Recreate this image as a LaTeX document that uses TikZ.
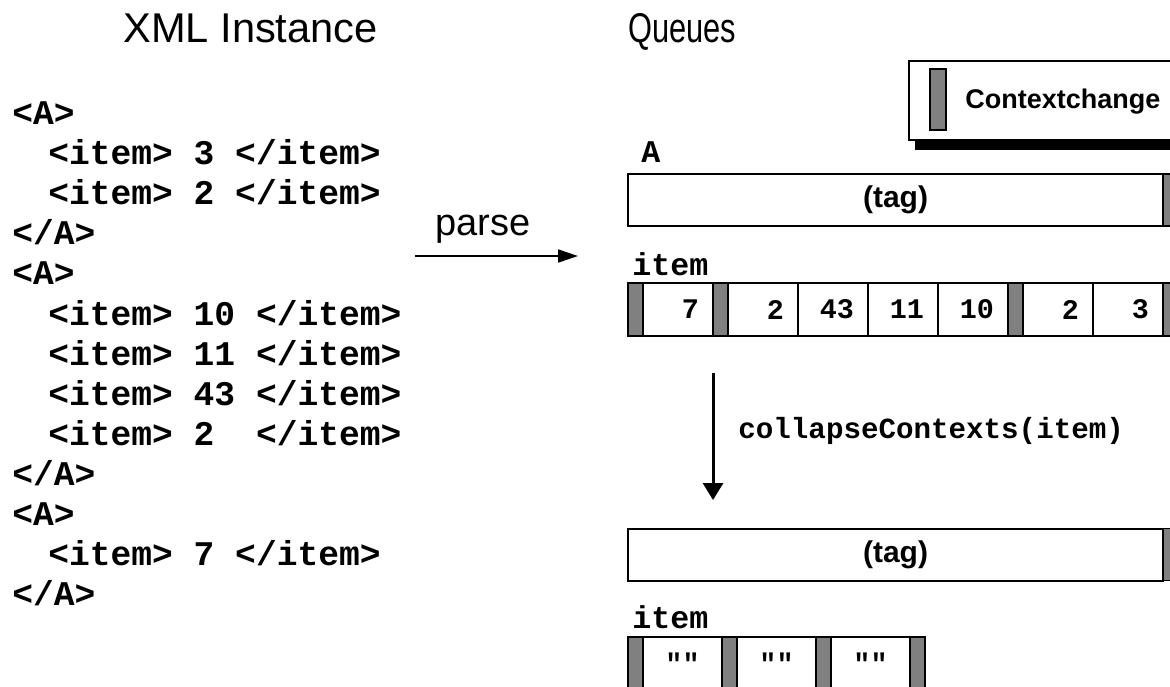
\documentclass[tikz,border=0pt]{standalone}
\usepackage{fontspec}
\newfontfamily\helv{Liberation Sans}
\newfontfamily\cour{Liberation Mono}
\usetikzlibrary{positioning,arrows.meta}

\begin{document}
\begin{tikzpicture}[x=0.5pt,y=-0.5pt,
	    title/.style={font=\helv\fontsize{20.8}{24}\selectfont, anchor=base west, inner sep=0},
	    xml/.style={font=\cour\bfseries\fontsize{17.3}{20}\selectfont, anchor=base west, inner sep=0},
	    code/.style={font=\cour\bfseries\fontsize{14.6}{18}\selectfont, anchor=base west, inner sep=0},
	    ctx/.style={draw, fill=black!50, line width=0.8pt, minimum width=7.5pt,
	        minimum height=26.5pt, inner sep=0, outer sep=0},
	    cell/.style={draw, fill=white, line width=1pt, minimum width=35pt,
	        minimum height=26.5pt, inner sep=0, outer sep=0, text width=21pt, align=right,
	        font=\cour\bfseries\fontsize{14.2}{18}\selectfont},
	    qcell/.style={cell, minimum width=39.5pt, minimum height=30pt},
	    qctx/.style={ctx, minimum height=30pt},
	    quote/.style={font=\cour\bfseries\fontsize{14.2}{18}\selectfont, inner sep=0},
	    tagbar/.style={draw, fill=white, line width=1pt, minimum width=267.5pt,
	        minimum height=26pt, inner sep=0, outer sep=0,
	        font=\helv\bfseries\fontsize{15}{18}\selectfont},
	    flow/.style={line width=1pt, -{Triangle[width=6.5pt,length=10pt]}}]

		\clip (0,0) rectangle (1170,686);

		% Titles
		\node[title] (xmltitle) at (123,42) {XML Instance};
		\node[title] (qtitle) at (628,42) {\scalebox{0.74}[1]{Queues}};

		% XML instance
		\node[xml] (x1) at (12,124) {<A>};
		\node[xml] (x2) at (48,164) {<item> 3 </item>};
		\node[xml] (x3) at (48,204) {<item> 2 </item>};
		\node[xml] (x4) at (12,244) {</A>};
		\node[xml] (x5) at (12,284) {<A>};
		\node[xml] (x6) at (48,325) {<item> 10 </item>};
		\node[xml] (x7) at (48,365) {<item> 11 </item>};
		\node[xml] (x8) at (48,405) {<item> 43 </item>};
		\node[xml] (x9) at (48,445) {<item> 2\ \ </item>};
		\node[xml] (x10) at (12,485) {</A>};
		\node[xml] (x11) at (12,525) {<A>};
		\node[xml] (x12) at (48,565) {<item> 7 </item>};
		\node[xml] (x13) at (12,605) {</A>};

		% Parse arrow
		\coordinate (p0) at (415,256);
		\coordinate (p1) at (578,256);
		\draw[flow] (p0) -- (p1);
		\node[title, font=\helv\fontsize{19}{22}\selectfont] (parse) at (435,235) {parse};

		% Legend
		\fill (915,139) rectangle (1180,150);
		\node[draw, fill=white, line width=0.8pt, minimum width=136pt, minimum height=39.5pt,
		    anchor=north west] (legend) at (908,60) {};
		\node[ctx, minimum width=8pt, minimum height=30.5pt] (swatch) at (938,99.5) {};
		\node[anchor=west, inner sep=0, font=\helv\bfseries\fontsize{13.5}{16}\selectfont]
		    (ctxlbl) at (965,102) {Contextchange};

		% Queue A
		\node[code, font=\cour\bfseries\fontsize{15.8}{18}\selectfont] (qA) at (641,162) {A};
		\node[tagbar] (tagA) at (895.5,200) {(tag)};
		\node[ctx, minimum height=26pt] (tagAend) [right=0pt of tagA] {};

		% Queue item
		\node[code, font=\cour\bfseries\fontsize{15.8}{18}\selectfont] (qitem) at (632,275) {item};
		\node[ctx, anchor=north west] (c0) at (628,283) {};
		\node[cell] (i7) [right=0pt of c0] {7};
		\node[ctx] (c1) [right=0pt of i7] {};
		\node[cell] (i2) [right=0pt of c1] {2};
		\node[cell] (i43) [right=0pt of i2] {43};
		\node[cell] (i11) [right=0pt of i43] {11};
		\node[cell] (i10) [right=0pt of i11] {10};
		\node[ctx] (c2) [right=0pt of i10] {};
		\node[cell] (j2) [right=0pt of c2] {2};
		\node[cell] (j3) [right=0pt of j2] {3};
		\node[ctx] (c3) [right=0pt of j3] {};

		% Collapse arrow
		\coordinate (d0) at (713,373);
		\coordinate (d1) at (713,500);
		\draw[line width=1.5pt, -{Triangle[width=10pt,length=8.5pt]}] (d0) -- (d1);
		\node[code] (collapse) at (738,438) {collapseContexts(item)};

		% Collapsed queues
		\node[tagbar] (tagB) at (895.5,554.5) {(tag)};
		\node[ctx, minimum height=26pt] (tagBend) [right=0pt of tagB] {};
		\node[code, font=\cour\bfseries\fontsize{15.8}{18}\selectfont] (citem) at (632,628) {item};
		\node[qctx, anchor=north west] (e0) at (628,637) {};
		\node[qcell] (q1) [right=0pt of e0] {};
		\node[qctx] (e1) [right=0pt of q1] {};
		\node[qcell] (q2) [right=0pt of e1] {};
		\node[qctx] (e2) [right=0pt of q2] {};
		\node[qcell] (q3) [right=0pt of e2] {};
		\node[qctx] (e3) [right=0pt of q3] {};
		\node[quote] (s1) [below=7.5pt of q1.north] {""};
		\node[quote] (s2) [below=7.5pt of q2.north] {""};
		\node[quote] (s3) [below=7.5pt of q3.north] {""};

	\end{tikzpicture}
\end{document}
